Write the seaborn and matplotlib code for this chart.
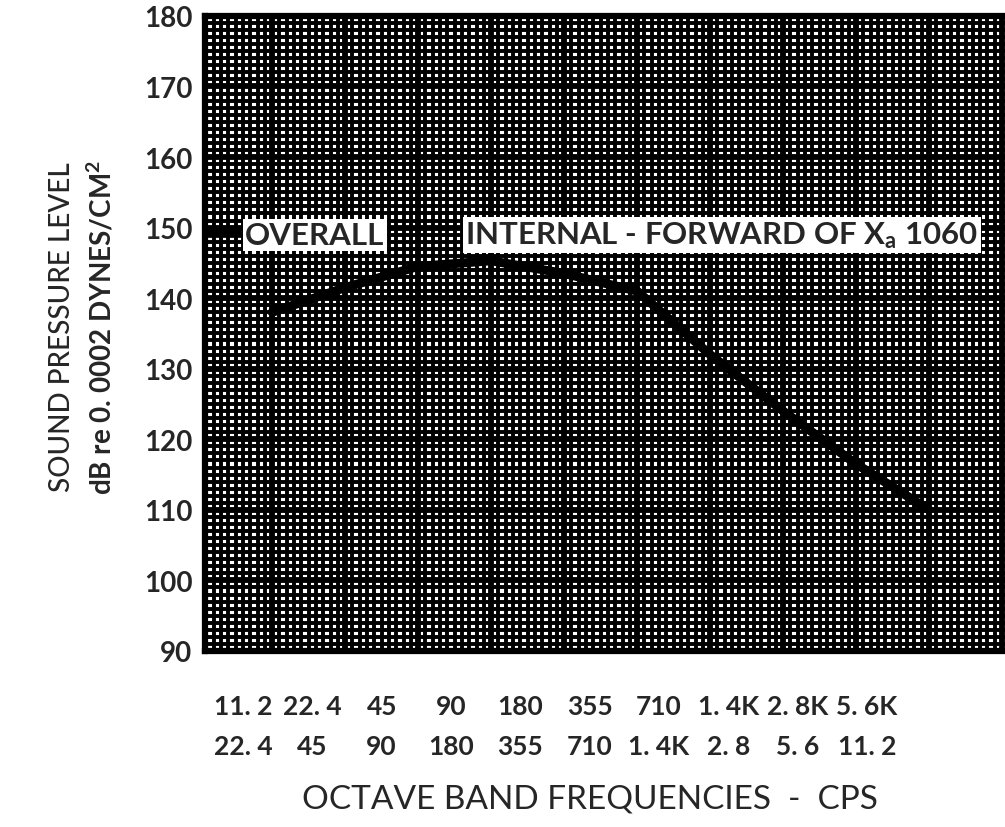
import numpy as np
import pandas as pd
import matplotlib
matplotlib.use("Agg")
import matplotlib.pyplot as plt
import seaborn as sns
from matplotlib.ticker import MultipleLocator

# ---- data ----
band_index = [1, 2, 3, 4, 5, 6, 7, 8, 9, 10]
spl_db = [138, 141.5, 144.5, 145.3, 143.5, 141, 132, 124, 116.5, 110]
band_low = ["11. 2", "22. 4", "45", "90", "180", "355", "710", "1. 4K", "2. 8K", "5. 6K"]
band_high = ["22. 4", "45", "90", "180", "355", "710", "1. 4K", "2. 8", "5. 6", "11. 2"]
y_ticks = [90, 100, 110, 120, 130, 140, 150, 160, 170, 180]

df = pd.DataFrame({"band": band_index, "spl": spl_db})

sns.set_theme(style="white")
plt.rcParams["font.family"] = ["Lato", "DejaVu Sans"]
plt.rcParams["mathtext.fontset"] = "custom"
plt.rcParams["mathtext.rm"] = "Lato:bold"
plt.rcParams["mathtext.it"] = "Lato:bold"

fig = plt.figure(figsize=(10.05, 8.28), dpi=100)
ax = fig.add_axes([0.204, 0.2126, 0.796, 0.767])
ax.set_facecolor("white")

# graph-paper grid
ax.set_xlim(0.08, 11.04)
ax.set_ylim(90, 180)
ax.xaxis.set_major_locator(MultipleLocator(1))
ax.xaxis.set_minor_locator(MultipleLocator(0.1))
ax.yaxis.set_major_locator(MultipleLocator(10))
ax.yaxis.set_minor_locator(MultipleLocator(1))
ax.grid(which="minor", color="black", linewidth=2.8)
ax.grid(which="major", color="black", linewidth=4.2)
ax.set_axisbelow(True)

sns.lineplot(data=df, x="band", y="spl", color="black", linewidth=6.5,
             ax=ax, zorder=5)

# y ticks
ax.set_yticks(y_ticks)
ax.set_yticklabels([str(v) for v in y_ticks], fontsize=20, fontweight="bold")
ax.tick_params(axis="y", which="both", length=0, pad=9)

# x ticks: two-row octave band labels
ax.set_xticks(np.arange(1, 12), minor=False)
ax.set_xticklabels([])
ax.tick_params(axis="x", which="both", length=0)
label_pos = 0.6 + np.arange(len(band_low)) * 0.95
for p, lo, hi in zip(label_pos, band_low, band_high):
    ax.text(p, -0.086, lo, transform=ax.get_xaxis_transform(), ha="center",
            va="center", fontsize=19, fontweight="bold")
    ax.text(p, -0.150, hi, transform=ax.get_xaxis_transform(), ha="center",
            va="center", fontsize=19, fontweight="bold")

ax.set_xlabel("")
ax.set_ylabel("")

for side in ["left", "bottom", "top"]:
    ax.spines[side].set_visible(True)
    ax.spines[side].set_color("black")
    ax.spines[side].set_linewidth(4.5)
ax.spines["right"].set_visible(False)

# legend-like labels
ax.plot([0.0, 0.045], [0.658, 0.658], transform=ax.transAxes, color="black",
        linewidth=7, solid_capstyle="butt", zorder=6, clip_on=False)
ax.text(0.1375, 0.655, "OVERALL", transform=ax.transAxes, ha="center", va="center",
        fontsize=22.5, fontweight="bold", zorder=7,
        bbox=dict(facecolor="white", edgecolor="none", pad=1.5))
ax.text(0.646, 0.655, r"INTERNAL - FORWARD OF X$_{\mathregular{a}}$ 1060",
        transform=ax.transAxes, ha="center", va="center",
        fontsize=22.5, fontweight="bold", zorder=7,
        bbox=dict(facecolor="white", edgecolor="none", pad=1.5))

# axis titles
fig.text(0.062, 0.605, "SOUND PRESSURE LEVEL", rotation=90, ha="center",
         va="center", fontsize=20, fontweight="medium")
fig.text(0.101, 0.605, r"dB re 0. 0002 DYNES/CM$^{\mathregular{2}}$", rotation=90,
         ha="center", va="center", fontsize=20, fontweight="bold")
fig.text(0.587, 0.034, "OCTAVE BAND FREQUENCIES  -  CPS", ha="center",
         va="center", fontsize=24)

fig.savefig("out.png", dpi=100)
